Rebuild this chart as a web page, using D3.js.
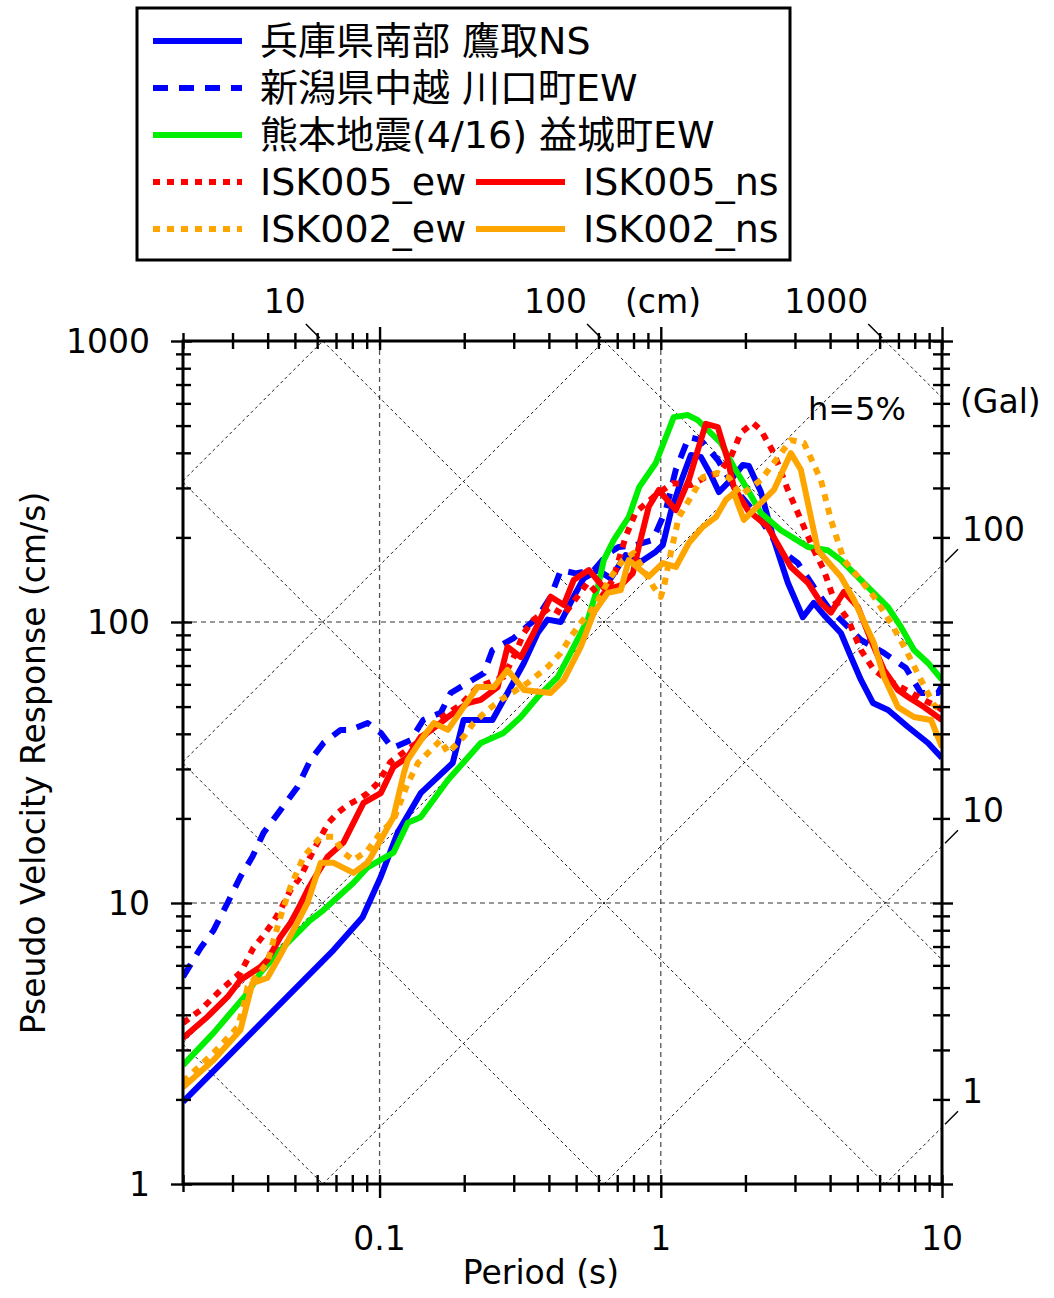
<!DOCTYPE html>
<html><head><meta charset="utf-8">
<script src="https://cdn.jsdelivr.net/npm/d3@7"></script>
<style>
body{margin:0;background:#fff}
svg{display:block}
text{font-family:"DejaVu Sans","Noto Sans CJK JP",sans-serif;fill:#000}
</style>
</head><body>
<svg id="chart" width="1054" height="1298"></svg>
<script>
// ---- data (period s, pseudo velocity cm/s) ----
const periodDomain = [0.02, 10];
const velocityDomain = [1, 1000];
const xTickLabels = [0.1, 1, 10];
const yTickLabels = [1, 10, 100, 1000];
const dispLines = [0.01, 0.1, 1, 10, 100, 1000];      // cm
const accLines = [1, 10, 100, 1000, 10000, 100000];   // Gal
const dispLabels = [10, 100, 1000];
const accLabels = [1, 10, 100];
const seriesNames = ["兵庫県南部 鷹取NS","新潟県中越 川口町EW","熊本地震(4/16) 益城町EW","ISK005_ew","ISK005_ns","ISK002_ew","ISK002_ns"];

const takatoriNS = [[0.02,1.96],[0.0686,6.8],[0.087,8.9],[0.101,12.4],[0.116,17.8],[0.14,24.6],[0.182,31.5],[0.199,44.8],[0.252,44.8],[0.285,55.9],[0.326,71.5],[0.365,91.4],[0.396,102],[0.441,100],[0.49,123],[0.532,143],[0.597,153],[0.664,143],[0.75,173],[0.849,164],[0.96,178],[1.017,188],[1.085,246],[1.178,315],[1.279,393],[1.388,387],[1.506,334],[1.609,290],[1.746,315],[1.958,362],[2.057,359],[2.27,290],[2.524,196],[2.831,138],[3.2,104],[3.5,117],[3.8,106],[4.37,91.4],[4.75,75],[5.15,62.2],[5.68,51.5],[6.43,48.6],[7.57,42.3],[8.92,37.1],[10,32.8]];
const kawaguchiEW = [[0.02,5.45],[0.0231,6.92],[0.0257,8.0],[0.0288,10],[0.032,12.4],[0.0353,14.6],[0.0387,17.8],[0.0444,21.4],[0.0511,25.9],[0.0568,32.3],[0.0632,37.1],[0.0727,41.3],[0.0788,41.3],[0.0907,43.7],[0.101,40.3],[0.111,35.6],[0.129,38],[0.143,44.8],[0.165,47.5],[0.179,55.9],[0.235,65.8],[0.252,79.5],[0.30,87.7],[0.365,104],[0.406,123],[0.441,153],[0.498,149],[0.578,153],[0.653,176],[0.709,185],[0.815,188],[0.937,196],[1.042,250],[1.131,348],[1.258,455],[1.388,444],[1.595,377],[1.849,295],[2.27,231],[2.673,180],[3.073,162],[3.504,133],[3.929,113],[4.553,97.6],[5.149,86.3],[6.218,77.6],[7.445,68.6],[8.418,55.9],[9.678,55.9],[10,59.2]];
const mashikiEW = [[0.02,2.65],[0.0257,3.45],[0.0339,4.78],[0.0377,5.64],[0.0444,6.8],[0.0568,8.7],[0.0632,9.44],[0.0808,11.8],[0.0907,13.4],[0.112,15.1],[0.126,19.3],[0.14,20.2],[0.175,27.4],[0.229,37.1],[0.276,40.3],[0.318,45.9],[0.365,54.1],[0.43,63.7],[0.49,81.5],[0.55,102],[0.597,133],[0.627,166],[0.681,196],[0.769,236],[0.838,302],[0.96,368],[1.112,536],[1.248,545],[1.354,523],[1.47,482],[1.635,434],[1.819,356],[2.04,295],[2.27,244],[2.673,212],[3.336,185],[3.929,180],[4.371,166],[5.149,141],[6.425,113],[7.147,96],[7.951,79.5],[8.917,71.5],[10,62.2]];
const isk005ew = [[0.02,3.74],[0.0231,4.16],[0.0272,4.9],[0.032,5.64],[0.0356,6.92],[0.0383,7.57],[0.0416,8.49],[0.0444,9.44],[0.0482,11.1],[0.0524,12.4],[0.0559,14.2],[0.0602,16.4],[0.0658,19.3],[0.0709,20.9],[0.0769,22.3],[0.0835,23.3],[0.0907,24.6],[0.0984,26.7],[0.1094,31.8],[0.14,38],[0.161,44.8],[0.194,50.7],[0.223,58.7],[0.276,63.7],[0.30,75],[0.326,91.4],[0.353,102],[0.406,113],[0.452,106],[0.55,138],[0.612,122],[0.675,141],[0.75,201],[0.815,246],[0.96,283],[1.103,312],[1.279,307],[1.446,328],[1.609,339],[1.775,387],[1.926,471],[2.126,511],[2.27,482],[2.524,399],[2.831,295],[3.149,231],[3.504,180],[3.803,153],[4.128,120],[4.63,102],[5.149,79.5],[5.728,67.5],[6.425,62.2],[7.445,57.3],[8.63,52.8],[9.678,49.8],[10,48.6]];
const isk005ns = [[0.02,3.31],[0.0244,3.93],[0.0288,4.63],[0.032,5.32],[0.0377,5.92],[0.0399,6.27],[0.0444,7.57],[0.0482,8.49],[0.0511,9.44],[0.0554,11.1],[0.0582,12.1],[0.0653,14.6],[0.0744,16.4],[0.0877,22.7],[0.101,24.6],[0.112,30.5],[0.126,33.1],[0.14,39],[0.148,40.3],[0.175,45.9],[0.206,51.5],[0.229,52.8],[0.263,58.7],[0.285,81.5],[0.318,75],[0.353,91.4],[0.406,123],[0.452,115],[0.49,141],[0.555,153],[0.637,130],[0.721,135],[0.795,149],[0.835,185],[0.906,257],[0.984,295],[1.131,250],[1.258,320],[1.365,420],[1.446,507],[1.595,494],[1.731,377],[1.819,302],[2.04,250],[2.403,218],[2.901,157],[3.336,138],[3.71,117],[4.027,108],[4.479,128],[5.023,113],[5.588,86.3],[6.218,67.5],[6.973,57.3],[7.568,54.1],[8.63,49.8],[10,44.8]];
const isk002ew = [[0.02,2.31],[0.0257,2.93],[0.0313,3.62],[0.0328,4.27],[0.0339,5.02],[0.0399,6.12],[0.042,7.39],[0.0444,8.92],[0.0482,11.4],[0.0537,14.6],[0.0617,17.2],[0.0686,17.2],[0.0744,15.1],[0.0808,14.2],[0.0907,15.4],[0.101,17.8],[0.112,19.7],[0.126,26.7],[0.137,31.5],[0.165,38],[0.175,34.2],[0.199,39],[0.216,43.7],[0.242,48.6],[0.27,52.8],[0.336,60.7],[0.396,69.2],[0.441,77.6],[0.478,88.4],[0.519,99.2],[0.587,115],[0.653,141],[0.733,166],[0.801,176],[0.87,153],[0.944,133],[1.0,123],[1.025,133],[1.085,176],[1.159,236],[1.279,278],[1.411,328],[1.595,339],[1.746,326],[1.926,283],[2.27,320],[2.566,377],[2.901,444],[3.228,434],[3.71,320],[4.027,231],[4.479,166],[5.023,145],[5.728,123],[6.585,99.2],[7.445,79.5],[8.418,62.2],[9.366,50.7],[10,47.8]];
const isk002ns = [[0.02,2.21],[0.0257,2.76],[0.032,3.53],[0.0353,5.19],[0.0399,5.41],[0.0444,6.53],[0.0494,8.01],[0.0554,10],[0.0617,13.9],[0.0686,13.9],[0.0808,12.8],[0.0907,13.9],[0.101,16.8],[0.112,20.2],[0.122,29],[0.126,32.3],[0.143,39],[0.156,43.7],[0.175,41.3],[0.199,49.8],[0.223,58.7],[0.255,58.7],[0.285,67.5],[0.326,57.3],[0.406,55.9],[0.452,62.2],[0.519,81.5],[0.578,108],[0.648,127],[0.721,130],[0.769,166],[0.906,145],[1.017,162],[1.131,157],[1.258,191],[1.411,218],[1.57,236],[1.703,272],[1.819,288],[1.974,231],[2.524,295],[2.901,399],[3.149,348],[3.62,180],[4.371,145],[4.862,120],[5.149,106],[5.728,84.2],[6.218,63.7],[6.973,49.8],[7.951,45.9],[9.141,44.8],[10,35.9]];

const seriesData = [takatoriNS, kawaguchiEW, mashikiEW, isk005ew, isk005ns, isk002ew, isk002ns];
const seriesColors = ["#0000ff","#0000ff","#00ee00","#ff0000","#ff0000","#ffa500","#ffa500"];
const seriesDash = [null,"15,11",null,"7,7",null,"7,7",null];

// ---- layout ----
const L = 183, R = 942, T = 341, B = 1184;
const svg = d3.select("#chart");
const x = d3.scaleLog().domain(periodDomain).range([L, R]);
const y = d3.scaleLog().domain(velocityDomain).range([B, T]);

svg.append("defs").append("clipPath").attr("id","clip")
  .append("rect").attr("x",L).attr("y",T).attr("width",R-L).attr("height",B-T);

// grid
const grid = svg.append("g");
[0.1,1].forEach(t=>grid.append("line").attr("x1",x(t)).attr("x2",x(t)).attr("y1",T).attr("y2",B)
  .attr("stroke","#555").attr("stroke-width",1.3).attr("stroke-dasharray","5,4"));
[10,100].forEach(v=>grid.append("line").attr("x1",L).attr("x2",R).attr("y1",y(v)).attr("y2",y(v))
  .attr("stroke","#333").attr("stroke-width",1.1).attr("stroke-dasharray","5,4"));

// tripartite diagonals
const twoPi = 2*Math.PI;
dispLines.forEach(D=>{
  const t0 = Math.max(periodDomain[0], twoPi*D/velocityDomain[1]);
  const t1 = Math.min(periodDomain[1], twoPi*D/velocityDomain[0]);
  if (t0 < t1) grid.append("line").attr("x1",x(t0)).attr("y1",y(twoPi*D/t0)).attr("x2",x(t1)).attr("y2",y(twoPi*D/t1))
    .attr("stroke","#000").attr("stroke-width",0.9).attr("stroke-dasharray","3,3");
});
accLines.forEach(A=>{
  const t0 = Math.max(periodDomain[0], twoPi*velocityDomain[0]/A);
  const t1 = Math.min(periodDomain[1], twoPi*velocityDomain[1]/A);
  if (t0 < t1) grid.append("line").attr("x1",x(t0)).attr("y1",y(A*t0/twoPi)).attr("x2",x(t1)).attr("y2",y(A*t1/twoPi))
    .attr("stroke","#000").attr("stroke-width",0.9).attr("stroke-dasharray","3,3");
});

// curves
const line = d3.line().x(d=>x(d[0])).y(d=>y(d[1]));
const curves = svg.append("g").attr("clip-path","url(#clip)");
seriesData.forEach((data,i)=>{
  curves.append("path").datum(data).attr("d",line).attr("fill","none")
    .attr("stroke",seriesColors[i]).attr("stroke-width",6)
    .attr("stroke-linejoin","round")
    .attr("stroke-dasharray",seriesDash[i]);
});

// axes ticks
const decadesX = [0.01,0.1,1];
const minorX = [], majorX = [0.1,1,10];
decadesX.forEach(d=>{for(let k=2;k<=9;k++){const v=+(d*k).toPrecision(3); if(v>=periodDomain[0]&&v<=periodDomain[1]) minorX.push(v);}});
const minorY = [], majorY = [1,10,100,1000];
[1,10,100].forEach(d=>{for(let k=2;k<=9;k++) minorY.push(d*k);});

function tickAxis(axisFn, scale, vals, size, tx, ty){
  const g = svg.append("g").attr("transform",`translate(${tx},${ty})`)
    .call(axisFn(scale).tickValues(vals).tickSize(size).tickSizeOuter(0).tickFormat(""));
  g.select(".domain").remove();
  g.selectAll("line").attr("stroke","#000").attr("stroke-width",2.4);
}
// bottom
tickAxis(d3.axisBottom, x, minorX, 8, 0, B);
tickAxis(d3.axisBottom, x, minorX, -9, 0, B);
tickAxis(d3.axisBottom, x, majorX, 14, 0, B);
tickAxis(d3.axisBottom, x, majorX, -9, 0, B);
// top
tickAxis(d3.axisTop, x, minorX, 8, 0, T);
tickAxis(d3.axisTop, x, minorX, -8, 0, T);
tickAxis(d3.axisTop, x, majorX, 14, 0, T);
tickAxis(d3.axisTop, x, majorX, -9, 0, T);
// left
tickAxis(d3.axisLeft, y, minorY, 7, L, 0);
tickAxis(d3.axisLeft, y, minorY, -8, L, 0);
tickAxis(d3.axisLeft, y, majorY, 12, L, 0);
tickAxis(d3.axisLeft, y, majorY, -9, L, 0);
// right
tickAxis(d3.axisRight, y, minorY, 8, R, 0);
tickAxis(d3.axisRight, y, minorY, -9, R, 0);
tickAxis(d3.axisRight, y, majorY, 11, R, 0);
tickAxis(d3.axisRight, y, majorY, -9, R, 0);

// frame
svg.append("rect").attr("x",L).attr("y",T).attr("width",R-L).attr("height",B-T)
  .attr("fill","none").attr("stroke","#000").attr("stroke-width",3);

// tick labels
const fmt = v => (v<1 ? String(v) : d3.format("d")(v));
xTickLabels.forEach(t=>svg.append("text").attr("x",x(t)).attr("y",1250).attr("text-anchor","middle")
  .attr("font-size",33).text(fmt(t)));
yTickLabels.forEach(v=>svg.append("text").attr("x",150).attr("y",y(v)+12).attr("text-anchor","end")
  .attr("font-size",33).text(fmt(v)));

// displacement labels (top)
dispLabels.forEach(D=>{
  const xc = x(twoPi*D/velocityDomain[1]);
  svg.append("line").attr("x1",xc-3).attr("y1",T-3).attr("x2",xc-17).attr("y2",T-17)
    .attr("stroke","#000").attr("stroke-width",1.5);
  svg.append("text").attr("x",xc-17).attr("y",313).attr("text-anchor","end").attr("font-size",33).text(fmt(D));
});
svg.append("text").attr("x",625).attr("y",313).attr("font-size",33).text("(cm)");

// acceleration labels (right)
accLabels.forEach(A=>{
  const yc = y(A*periodDomain[1]/twoPi);
  svg.append("line").attr("x1",R+3).attr("y1",yc-3).attr("x2",R+16).attr("y2",yc-16)
    .attr("stroke","#000").attr("stroke-width",1.5);
  svg.append("text").attr("x",962).attr("y",yc-24).attr("font-size",33).text(fmt(A));
});
svg.append("text").attr("x",960).attr("y",413).attr("font-size",33).text("(Gal)");

svg.append("text").attr("x",808).attr("y",420).attr("font-size",32).text("h=5%");

// axis titles
svg.append("text").attr("x",541).attr("y",1284).attr("text-anchor","middle").attr("font-size",33).text("Period (s)");
svg.append("text").attr("transform","translate(45,763) rotate(-90)").attr("text-anchor","middle")
  .attr("font-size",33).text("Pseudo Velocity Response (cm/s)");

// legend
const lg = svg.append("g");
lg.append("rect").attr("x",137).attr("y",8).attr("width",653).attr("height",252)
  .attr("fill","#fff").attr("stroke","#000").attr("stroke-width",3);
const legendPos = [[0,0],[0,1],[0,2],[0,3],[1,3],[0,4],[1,4]];
legendPos.forEach(([c,r],i)=>{
  const ly = 41 + r*47;
  const lx = c===0 ? 153 : 476;
  lg.append("line").attr("x1",lx).attr("x2",lx+89).attr("y1",ly).attr("y2",ly)
    .attr("stroke",seriesColors[i]).attr("stroke-width",6).attr("stroke-dasharray",seriesDash[i]);
  lg.append("text").attr("x",c===0?260:583).attr("y",ly+13).attr("font-size",38).text(seriesNames[i]);
});
</script>
</body></html>
